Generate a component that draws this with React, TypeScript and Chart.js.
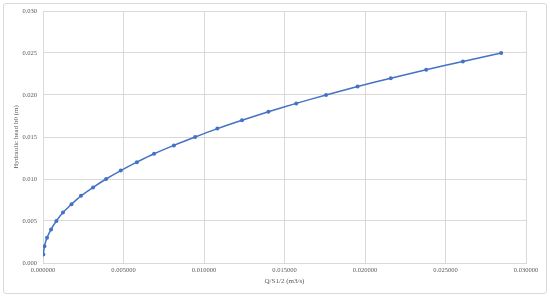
import React, { useEffect, useRef } from "react";
import { Chart, registerables } from "chart.js";

Chart.register(...registerables);

const headValues = [
  0.001, 0.002, 0.003, 0.004, 0.005, 0.006, 0.007, 0.008, 0.009, 0.01,
  0.011, 0.012, 0.013, 0.014, 0.015, 0.016, 0.017, 0.018, 0.019, 0.02,
  0.021, 0.022, 0.023, 0.024, 0.025,
];
const flowValues = [
  0.00002, 0.00009, 0.00025, 0.0005, 0.00083, 0.00124, 0.00177, 0.00236, 0.00311, 0.00392,
  0.00483, 0.00583, 0.0069, 0.00813, 0.00945, 0.01083, 0.01236, 0.014, 0.01573, 0.01758,
  0.01954, 0.0216, 0.0238, 0.02608, 0.02846,
];
const xTitle = "Q/S1/2 (m3/s)";
const yTitle = "Hydraulic head h0 (m)";

export default function App() {
  const ref = useRef<HTMLCanvasElement | null>(null);
  useEffect(() => {
    if (!ref.current) return;
    const font = { family: "'Liberation Serif', 'Times New Roman', serif", size: 6.5 };
    const grid = "#d9d9d9";
    const text = "#595959";
    const chart = new Chart(ref.current, {
      type: "scatter",
      data: {
        datasets: [
          {
            data: flowValues.map((x, i) => ({ x, y: headValues[i] })),
            showLine: true,
            borderColor: "#4472C4",
            backgroundColor: "#4472C4",
            borderWidth: 1.5,
            pointRadius: 2,
            pointBorderWidth: 0,
            tension: 0.3,
          },
        ],
      },
      options: {
        animation: false,
        responsive: false,
        layout: { padding: { left: 8, right: 24, top: 11, bottom: 0 } },
        plugins: { legend: { display: false }, tooltip: { enabled: false } },
        scales: {
          x: {
            type: "linear",
            min: 0,
            max: 0.03,
            ticks: {
              stepSize: 0.005,
              callback: (v: any) => Number(v).toFixed(6),
              font,
              color: text,
              padding: 3,
              maxRotation: 0,
            },
            grid: { color: grid, drawTicks: false },
            border: { color: grid },
            title: { display: true, text: xTitle, font: { ...font, size: 7 }, color: text, padding: { top: 0, bottom: 13 } },
            afterFit: (s: any) => { s.height = 35; },
          },
          y: {
            type: "linear",
            min: 0,
            max: 0.03,
            ticks: {
              stepSize: 0.005,
              callback: (v: any) => Number(v).toFixed(3),
              font,
              color: text,
              padding: 6,
            },
            grid: { color: grid, drawTicks: false },
            border: { color: grid },
            title: { display: true, text: yTitle, font: { ...font, size: 7 }, color: text, padding: { top: 4, bottom: 0 } },
            afterFit: (s: any) => { s.width = 35; },
          },
        },
      },
    } as any);
    return () => chart.destroy();
  }, []);
  return (
    <div style={{ position: "fixed", left: 0, top: 0, width: 550, height: 298, background: "#fff" }}>
      <div
        style={{
          position: "absolute",
          left: 3,
          top: 3,
          width: 542,
          height: 289,
          border: "1px solid #d9d9d9",
          borderRadius: 3,
        }}
      />
      <canvas ref={ref} width={550} height={298} style={{ position: "absolute", left: 0, top: 0 }} />
    </div>
  );
}
